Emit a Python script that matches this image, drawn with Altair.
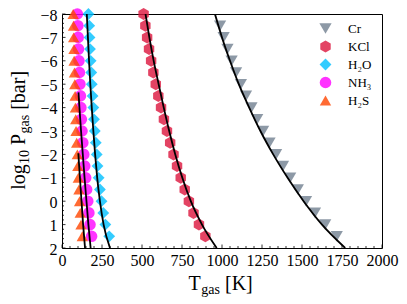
import altair as alt
import pandas as pd
import numpy as np

# ---------------- data ----------------
species = ["Cr", "KCl", "H₂O", "NH₃", "H₂S"]
colors = ["#708090", "#dc143c", "#00bfff", "#ff00ff", "#ff4500"]
hexagon = "M0,-1L0.866,-0.5L0.866,0.5L0,1L-0.866,0.5L-0.866,-0.5Z"
shapes = ["triangle-down", hexagon, "diamond", "circle", "triangle-up"]
sizes = [150, 130, 175, 110, 125]

marker_logp = [-8.0, -7.5, -7.0, -6.5, -6.0, -5.5, -5.0, -4.5, -4.0, -3.5,
               -3.0, -2.5, -2.0, -1.5, -1.0, -0.5, 0.0, 0.5, 1.0, 1.5]
cr_marker_logp = marker_logp[1:]
cr_marker_T = [988, 1010, 1034, 1060, 1088, 1118, 1150, 1184, 1220, 1257,
               1297, 1338, 1381, 1426, 1474, 1525, 1581, 1645, 1717]
kcl_marker_T = [510, 521, 532, 544, 557, 571, 586, 602, 619, 637,
                656, 676, 697, 719, 742, 767, 793, 822, 856, 896]
h2o_marker_T = [165, 170, 172, 175, 179, 183, 186, 191, 196, 200,
                205, 211, 217, 222, 229, 237, 247, 258, 271, 295]
nh3_marker_T = [96, 99, 101, 103, 106, 109, 112, 115, 118, 121,
                125, 130, 136, 142, 148, 154, 161, 168, 175, 185]
h2s_marker_T = [70, 72, 73, 75, 76, 78, 80, 82, 84, 86,
                88, 92, 96, 99, 102, 106, 110, 114, 119, 127]

curve_logp = [-8, -7, -6, -5, -4, -3, -2, -1, 0, 1, 2]
cr_curve_T = [956, 1000, 1050, 1105, 1170, 1240, 1320, 1410, 1510, 1625, 1770]
kcl_curve_T = [522, 546, 573, 604, 636, 670, 708, 752, 805, 875, 967]
h2o_curve_T = [155, 162, 169, 177, 186, 196, 207, 220, 237, 260, 300]
nh3_curve_logp = [-4.65, -4, -3, -2, -1, 0, 1, 2]
nh3_curve_T = [103, 109, 119, 130, 141, 153, 165, 179]
h2s_curve_logp = [-2.05, -1, 0, 1, 2]
h2s_curve_T = [102, 112, 122, 132, 144]

x_ticks = [0, 250, 500, 750, 1000, 1250, 1500, 1750, 2000]
y_ticks = [-8, -7, -6, -5, -4, -3, -2, -1, 0, 1, 2]

# ---------------- tables ----------------
mk = []
for sp, lp, ts in [("Cr", cr_marker_logp, cr_marker_T),
                   ("KCl", marker_logp, kcl_marker_T),
                   ("H₂O", marker_logp, h2o_marker_T),
                   ("NH₃", marker_logp, nh3_marker_T),
                   ("H₂S", marker_logp, h2s_marker_T)]:
    for p, t in zip(lp, ts):
        mk.append({"species": sp, "logP": p, "T": t})
markers = pd.DataFrame(mk)

cv = []
for sp, lp, ts in [("Cr", curve_logp, cr_curve_T),
                   ("KCl", curve_logp, kcl_curve_T),
                   ("H2O", curve_logp, h2o_curve_T),
                   ("NH3", nh3_curve_logp, nh3_curve_T),
                   ("H2S", h2s_curve_logp, h2s_curve_T)]:
    for p, t in zip(lp, ts):
        cv.append({"curve": sp, "logP": p, "T": t})
curves = pd.DataFrame(cv)

W, H = 320, 234
FONT = "Liberation Serif"

xs = alt.Scale(domain=[0, 2000], nice=False, zero=False)
ys = alt.Scale(domain=[-8, 2], reverse=True, nice=False, zero=False)

xaxis = alt.Axis(values=x_ticks, title=None, labelFlush=False, labelOverlap=False,
                 labelPadding=4, format="d")
yaxis = alt.Axis(values=y_ticks, title=None, labelFlush=False, labelOverlap=False,
                 labelPadding=5, labelOffset=1, format="d")

legend = alt.Legend(orient="none", legendX=257, legendY=8, title=None,
                    labelFont=FONT, labelFontSize=13, symbolSize=135,
                    symbolOpacity=0.8, symbolStrokeWidth=0, labelOffset=16,
                    rowPadding=4, padding=0)

points = alt.Chart(markers).mark_point(filled=True, opacity=0.8, strokeWidth=0).encode(
    x=alt.X("T:Q", scale=xs, axis=xaxis),
    y=alt.Y("logP:Q", scale=ys, axis=yaxis),
    color=alt.Color("species:N", scale=alt.Scale(domain=species, range=colors), legend=legend),
    shape=alt.Shape("species:N", scale=alt.Scale(domain=species, range=shapes), legend=legend),
    size=alt.Size("species:N", scale=alt.Scale(domain=species, range=sizes), legend=None),
)

lines = alt.Chart(curves).mark_line(color="black", strokeWidth=1.8,
                                    interpolate="monotone", clip=True).encode(
    x=alt.X("T:Q", scale=xs, axis=xaxis),
    y=alt.Y("logP:Q", scale=ys, axis=yaxis),
    detail="curve:N",
    order=alt.Order("logP:Q"),
)

# inward tick marks
xmaj = pd.DataFrame({"T": x_ticks})
xmin = pd.DataFrame({"T": [v for v in range(0, 2001, 50) if v % 250 != 0]})
ymaj = pd.DataFrame({"logP": y_ticks})
ymin = pd.DataFrame({"logP": [round(v, 1) for v in np.arange(-8, 2.001, 0.2) if abs(v - round(v)) > 1e-6]})

def xtick(df, ln):
    return alt.Chart(df).mark_rule(color="black", strokeWidth=0.8).encode(
        x=alt.X("T:Q", scale=xs, axis=xaxis), y=alt.value(H), y2=alt.value(H - ln))

def ytick(df, ln):
    return alt.Chart(df).mark_rule(color="black", strokeWidth=0.8).encode(
        y=alt.Y("logP:Q", scale=ys, axis=yaxis), x=alt.value(0), x2=alt.value(ln))

one = pd.DataFrame({"a": [0]})

def txt(s, x, y, size=20, angle=0):
    return alt.Chart(one).mark_text(font=FONT, fontSize=size, align="left",
                                    baseline="alphabetic", angle=angle,
                                    color="black").encode(
        x=alt.value(x), y=alt.value(y), text=alt.value(s))

titles = [
    txt("T", 126.6, 276), txt("gas", 139.3, 280, 14), txt("[K]", 163, 276),
    txt("log", -37, 175.7, 20, 270), txt("10", -33, 150.1, 14, 270),
    txt("P", -37, 131.1, 20, 270), txt("gas", -33, 119.5, 14, 270),
    txt("[bar]", -37, 95.8, 20, 270),
]

chart = alt.layer(
    points, lines,
    xtick(xmaj, 3.5), xtick(xmin, 2), ytick(ymaj, 3.5), ytick(ymin, 2),
    *titles
).properties(
    width=W, height=H,
    padding={"left": 54, "top": 6, "right": 17, "bottom": 50},
    autosize=alt.AutoSizeParams(type="none"),
).configure_view(
    stroke="black", strokeWidth=1
).configure_axis(
    domain=False, ticks=False, grid=False,
    labelFont=FONT, labelFontSize=16, labelColor="black",
)

chart.save("out.html", embed_options={"renderer": "svg", "actions": False})
